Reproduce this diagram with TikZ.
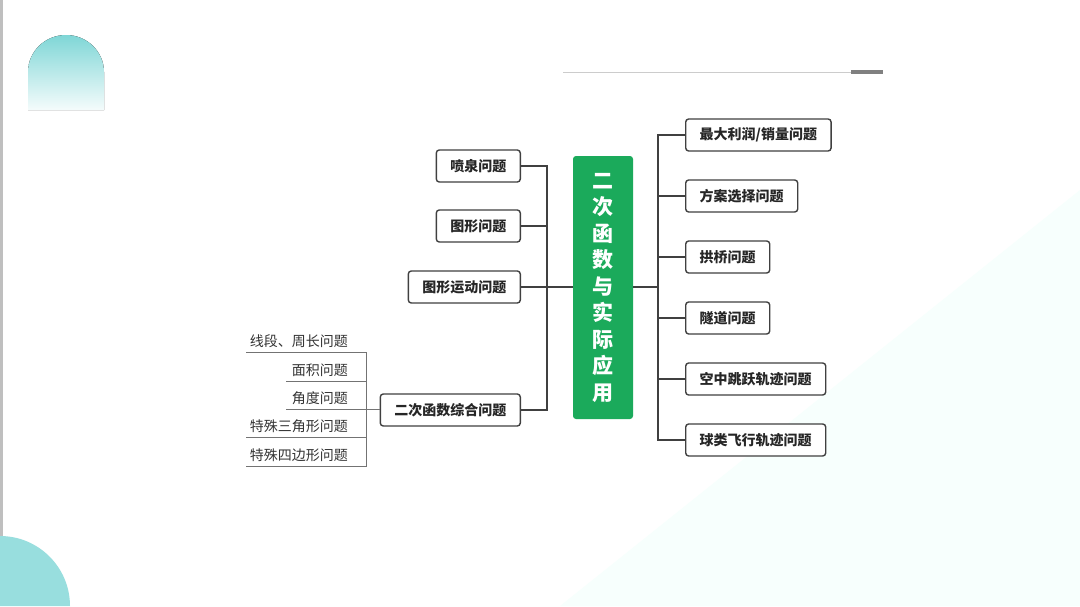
\documentclass[tikz,border=0pt]{standalone}
\usepackage{fontspec}
\setmainfont{Noto Sans CJK SC}
\usetikzlibrary{fadings}
\definecolor{gr}{HTML}{1BAA5B}
\definecolor{ln}{HTML}{404040}
\definecolor{teal}{HTML}{7FD6D6}
\tikzset{
 box/.style={draw=ln,line width=1.4pt,rounded corners=3pt,fill=white,minimum height=32pt,inner xsep=14pt,font=\fontsize{14}{14}\selectfont\bfseries,text=black!85},
 conn/.style={draw=ln,line width=1.4pt},
 thin/.style={draw=black!55,line width=0.7pt},
 sub/.style={font=\fontsize{14}{14}\selectfont,text=black!80,anchor=south east,inner sep=2pt}
}
\begin{document}
\begin{tikzpicture}[x=1pt,y=-1pt]
\useasboundingbox (0,0) rectangle (1080,606);
\fill[white] (0,0) rectangle (1080,606);
\fill[black!25] (0,0) rectangle (3,606);
% decorations
\fill[green!20!cyan!3] (1080,190) -- (1080,606) -- (560,606) -- cycle;
\fill[top color=teal,bottom color=teal!8] (28,110) -- (28,72) arc[start angle=180,end angle=360,x radius=38,y radius=37] -- (104,110) -- cycle;
\fill[teal!80] (0,536) arc[start angle=270,end angle=360,radius=70] -- (0,606) -- cycle;
\draw[black!20,line width=1pt] (563,72) -- (851,72);
\draw[black!50,line width=3.5pt] (851,72) -- (883,72);
% centre
\node[fill=gr,rounded corners=3pt,minimum width=60pt,minimum height=263pt,text=white,font=\fontsize{21}{26.5}\selectfont\bfseries,align=center] (c) at (603,287.5) {二\\次\\函\\数\\与\\实\\际\\应\\用};
% left
\node[box,anchor=east] (l1) at (521,166) {喷泉问题};
\node[box,anchor=east] (l2) at (521,226) {图形问题};
\node[box,anchor=east] (l3) at (521,287) {图形运动问题};
\node[box,anchor=east] (l4) at (521,410) {二次函数综合问题};
\coordinate (lt) at (547,166);
\coordinate (lb) at (547,410);
\draw[conn] (l1.east) -- (lt) -- (lb) -- (l4.east);
\draw[conn] (l2.east) -- (547,226);
\draw[conn] (l3.east) -- (c.west|-l3.east);
% right
\node[box,anchor=west] (r1) at (685,135) {最大利润/销量问题};
\node[box,anchor=west] (r2) at (685,196) {方案选择问题};
\node[box,anchor=west] (r3) at (685,257) {拱桥问题};
\node[box,anchor=west] (r4) at (685,318) {隧道问题};
\node[box,anchor=west] (r5) at (685,379) {空中跳跃轨迹问题};
\node[box,anchor=west] (r6) at (685,440) {球类飞行轨迹问题};
\coordinate (rt) at (658,135);
\coordinate (rb) at (658,440);
\draw[conn] (r1.west) -- (rt) -- (rb) -- (r6.west);
\foreach \n in {r2,r3,r4,r5} \draw[conn] (\n.west) -- (658,0|-\n.west);
\draw[conn] (c.east|-0,287) -- (658,287);
% sub items
\node[sub] (s1) at (350,350) {线段、周长问题};
\node[sub] (s2) at (350,379) {面积问题};
\node[sub] (s3) at (350,407) {角度问题};
\node[sub] (s4) at (350,435) {特殊三角形问题};
\node[sub] (s5) at (350,464) {特殊四边形问题};
\coordinate (st) at (366,352);
\coordinate (sb) at (366,466);
\draw[thin] (246,352) -- (st) -- (sb) -- (246,466);
\draw[thin] (286,381) -- (366,381);
\draw[thin] (286,409) -- (l4.west|-0,409);
\draw[thin] (246,437) -- (366,437);
\end{tikzpicture}
\end{document}
